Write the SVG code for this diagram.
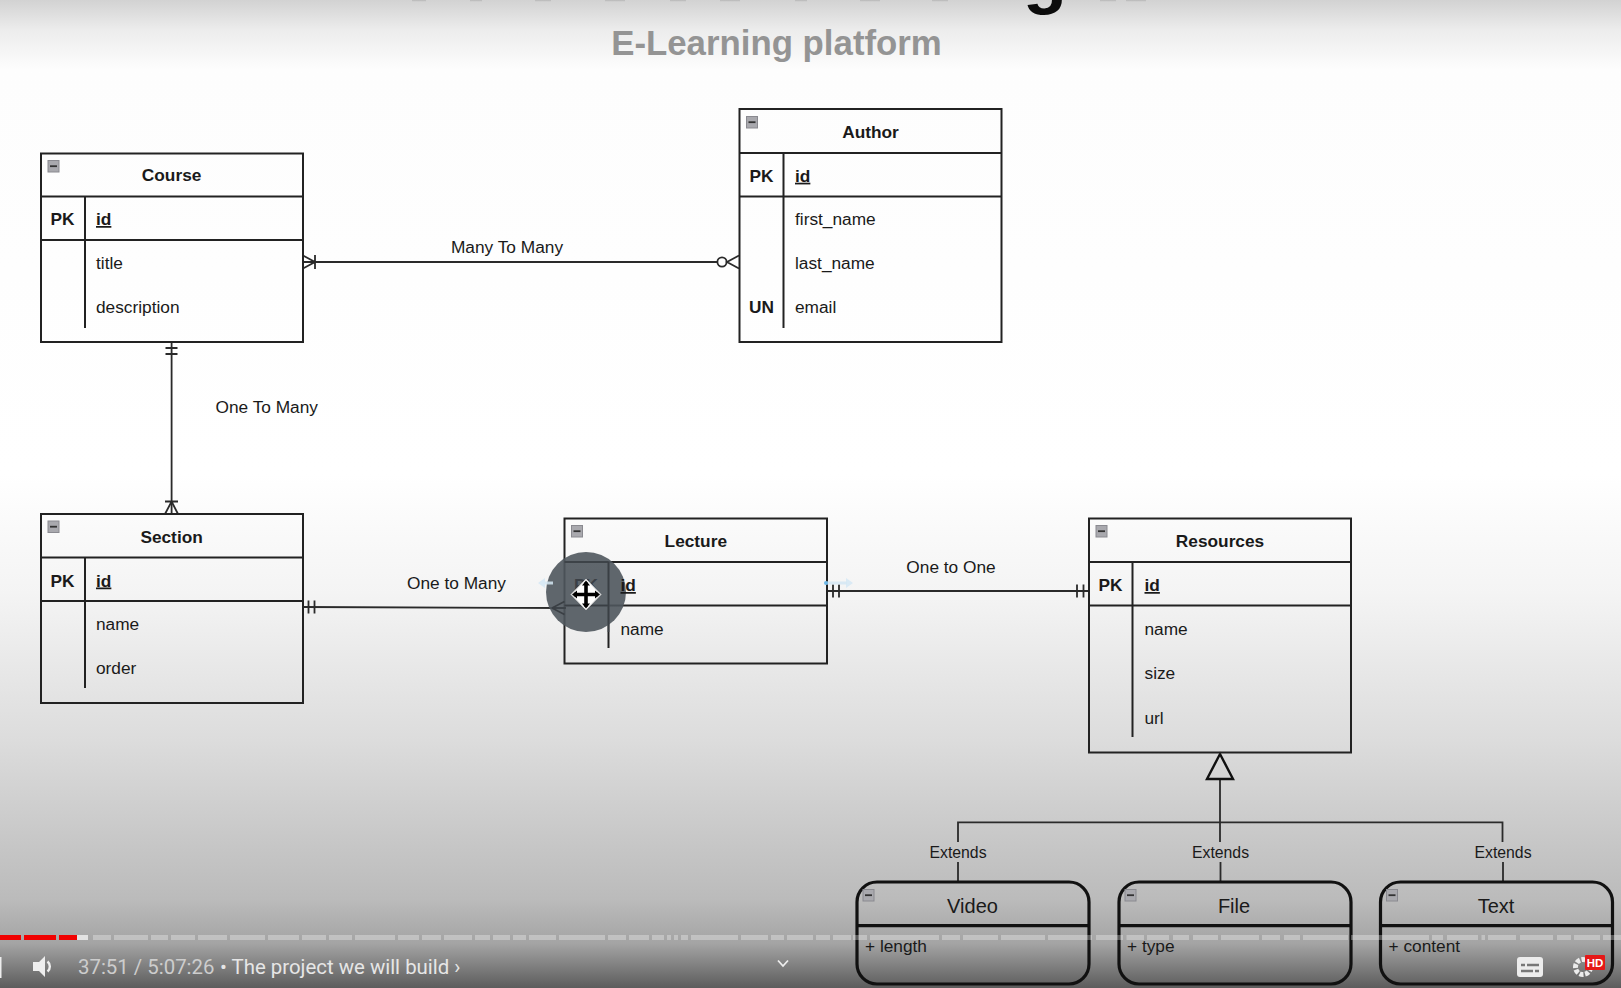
<svg xmlns="http://www.w3.org/2000/svg" width="1621" height="988" viewBox="0 0 1621 988">
<style>
text{font-family:"Liberation Sans",Arial,sans-serif;font-size:17.3px;fill:#1a1a1a}
.b{font-weight:bold}
.m{text-anchor:middle}
.u{text-decoration:underline}
.box{fill:none;stroke:#222;stroke-width:2}
.ln{fill:none;stroke:#222;stroke-width:2}
.thick{fill:none;stroke:#111;stroke-width:3.2}
.con{fill:none;stroke:#2a2a2a;stroke-width:1.8}
.ico{fill:#a9a9ae;stroke:#8a8a90;stroke-width:1}
.icb{stroke:#333;stroke-width:1.8}
.big{font-size:20px}
.ext{font-size:15.8px}
.yt{font-family:Roboto,"Liberation Sans",sans-serif;font-size:20.4px}
</style>
<defs>
<linearGradient id="bg" x1="0" y1="0" x2="0" y2="1">
<stop offset="0" stop-color="#d2d2d2"/>
<stop offset="0.03" stop-color="#ececec"/>
<stop offset="0.07" stop-color="#fdfdfd"/>
<stop offset="0.48" stop-color="#ffffff"/>
<stop offset="0.6" stop-color="#f4f4f4"/>
<stop offset="0.75" stop-color="#dcdcdc"/>
<stop offset="0.91" stop-color="#bbbbbb"/>
<stop offset="0.955" stop-color="#a4a4a4"/>
<stop offset="1" stop-color="#5c5c5c"/>
</linearGradient>
<g id="minus"><rect class="ico" x="0.5" y="0.5" width="11" height="11.5"/><path class="icb" d="M2.5 6.2H9.5"/></g>
</defs>
<rect width="1621" height="988" fill="url(#bg)"/>

<g id="title-remnants" fill="#777" opacity="0.22">
<rect x="412" y="0" width="14" height="1.2"/><rect x="470" y="0" width="12" height="1.2"/><rect x="535" y="0" width="16" height="1.2"/><rect x="605" y="0" width="20" height="1.2"/><rect x="670" y="0" width="16" height="1.2"/><rect x="720" y="0" width="20" height="1.2"/><rect x="795" y="0" width="12" height="1.2"/><rect x="860" y="0" width="20" height="1.2"/><rect x="932" y="0" width="16" height="1.2"/><rect x="1100" y="0" width="16" height="1.2"/><rect x="1126" y="0" width="20" height="1.2"/>
</g>
<text x="1023" y="0" style="font-size:72px;font-weight:bold;fill:#0c0c0c">g</text>
<text x="776.5" y="55" class="b m" style="font-size:34.8px;fill:#949494">E-Learning platform</text>

<g id="connectors">
<g id="c-course-author">
<path class="con" d="M303 262H717"/>
<path class="con" d="M303 255.5L315 262L303 268.5M315 255V269"/>
<circle class="con" cx="722" cy="262" r="4.6"/>
<path class="con" d="M739 255.5L727 262L739 268.5"/>
<text x="507" y="253" class="m">Many To Many</text>
</g>
<g id="c-course-section">
<path class="con" d="M171.6 342V514"/>
<path class="con" d="M165.5 348H177.5M165.5 354H177.5"/>
<path class="con" d="M165 501.5H178M165 514L171.6 501.5L178 514"/>
<text x="215.5" y="412.5">One To Many</text>
</g>
<g id="c-section-lecture">
<path class="con" d="M303 607L564.5 608"/>
<path class="con" d="M308.5 600.5V613.5M314.5 600.5V613.5"/>
<text x="456.5" y="589" class="m">One to Many</text>
</g>
<g id="c-lecture-resources">
<path class="con" d="M827 591H1089"/>
<path class="con" d="M833 584.5V597.5M839 584.5V597.5M1077 584.5V597.5M1083.5 584.5V597.5"/>
<text x="951" y="573" class="m">One to One</text>
</g>
<g id="c-extends">
<path class="con" d="M1220 779V842M958 842V822.3H1502.5V842M958 862V882M1220.5 862V882M1503 862V882"/>
<path d="M1220 754L1233 779H1207Z" fill="none" stroke="#111" stroke-width="2.4"/>
<text x="958" y="857.5" class="m ext">Extends</text>
<text x="1220.5" y="857.5" class="m ext">Extends</text>
<text x="1503" y="857.5" class="m ext">Extends</text>
</g>
</g>

<g id="course">
<rect class="box" x="41" y="153.5" width="262" height="188.5"/>
<path class="ln" d="M41 196.5H303M41 240H303M85 196.5V328"/>
<use href="#minus" x="47.5" y="160"/>
<text x="171.6" y="181.2" class="b m">Course</text>
<text x="62.5" y="225" class="b m">PK</text>
<text x="96" y="225" class="b u">id</text>
<text x="96" y="269">title</text>
<text x="96" y="312.5">description</text>
</g>
<g id="author">
<rect class="box" x="739.5" y="109" width="262" height="233"/>
<path class="ln" d="M739.5 153H1001.5M739.5 196.5H1001.5M783.5 153V328"/>
<use href="#minus" x="746" y="116"/>
<text x="870.5" y="137.7" class="b m">Author</text>
<text x="761.5" y="181.7" class="b m">PK</text>
<text x="795" y="181.7" class="b u">id</text>
<text x="795" y="225">first_name</text>
<text x="795" y="269">last_name</text>
<text x="761.5" y="312.5" class="b m">UN</text>
<text x="795" y="312.5">email</text>
</g>
<g id="section">
<rect class="box" x="41" y="514" width="262" height="189"/>
<path class="ln" d="M41 557.5H303M41 601H303M85 557.5V688"/>
<use href="#minus" x="47.5" y="520.5"/>
<text x="171.6" y="542.5" class="b m">Section</text>
<text x="62.5" y="586.5" class="b m">PK</text>
<text x="96" y="586.5" class="b u">id</text>
<text x="96" y="630">name</text>
<text x="96" y="673.5">order</text>
</g>
<g id="lecture">
<rect class="box" x="564.5" y="518.5" width="262.5" height="145"/>
<path class="ln" d="M564.5 562H827M564.5 605.5H827M608.5 562V648"/>
<circle cx="586" cy="592" r="40" fill="#4f565d" opacity="0.9"/>
<path d="M564.5 562H608.5M564.5 605.5H608.5M608.5 562V632" fill="none" stroke="#3a3f44" stroke-width="1.6"/>
<path d="M552 608H566M552 608L564.5 601.5M552 608L564.5 614.5" fill="none" stroke="#3a3f44" stroke-width="1.6"/>
<use href="#minus" x="571" y="525"/>
<text x="695.8" y="547" class="b m">Lecture</text>
<text x="586" y="591" class="b m" style="fill:#3b4046">PK</text>
<text x="620.5" y="591" class="b u">id</text>
<text x="620.5" y="634.5">name</text>
<path d="M538 583l7-5v10zM853 583l-7-5v10z" fill="#d5e8f4" opacity="0.85"/>
<path d="M827 583h20M545 583h8" stroke="#d5e8f4" stroke-width="3" opacity="0.85"/>
<circle cx="826" cy="583" r="2" fill="#6db8e8"/>
<g id="move-cursor">
<path d="M586 579L601 594.5L586 610L571 594.5Z" fill="#fff" stroke="#c8c8c8"/>
<path d="M586 582.5V606.5M574 594.5H598" stroke="#000" stroke-width="3.6"/>
<path d="M586 580.5l-4 5h8zM586 608.5l-4-5h8zM572 594.5l5-4v8zM600 594.5l-5-4v8z" fill="#000"/>
</g>
</g>
<g id="resources">
<rect class="box" x="1089" y="518.5" width="262" height="234"/>
<path class="ln" d="M1089 562H1351M1089 605.5H1351M1132.5 562V737"/>
<use href="#minus" x="1095.5" y="525"/>
<text x="1220" y="547" class="b m">Resources</text>
<text x="1110.5" y="591" class="b m">PK</text>
<text x="1144.5" y="591" class="b u">id</text>
<text x="1144.5" y="634.5">name</text>
<text x="1144.5" y="679">size</text>
<text x="1144.5" y="723.5">url</text>
</g>
<g id="video">
<rect class="thick" x="857" y="882" width="232" height="102" rx="20"/>
<path class="thick" d="M857 925.7H1089"/>
<use href="#minus" x="862.5" y="889"/>
<text x="972.5" y="913" class="m big">Video</text>
<text x="865" y="952">+ length</text>
</g>
<g id="file">
<rect class="thick" x="1119" y="882" width="232" height="102" rx="20"/>
<path class="thick" d="M1119 925.7H1351"/>
<use href="#minus" x="1124.5" y="889"/>
<text x="1234" y="913" class="m big">File</text>
<text x="1127" y="952">+ type</text>
</g>
<g id="text">
<rect class="thick" x="1380.5" y="882" width="232" height="102" rx="20"/>
<path class="thick" d="M1380.5 925.7H1612.5"/>
<use href="#minus" x="1386" y="889"/>
<text x="1496" y="913" class="m big">Text</text>
<text x="1388.5" y="952">+ content</text>
</g>

<g id="player">
<path d="M93 937.5H111M114 937.5H148M151 937.5H168M171 937.5H195M198 937.5H227M230 937.5H265M268 937.5H299M302 937.5H326M329 937.5H352M355 937.5H395M398 937.5H419M422 937.5H441M444 937.5H472M475 937.5H490M493 937.5H510M513 937.5H526M529 937.5H556M559 937.5H605M608 937.5H626M629 937.5H649M652 937.5H664M667 937.5H671M674 937.5H678M681 937.5H688M691 937.5H738M741 937.5H768M771 937.5H784M787 937.5H813M816 937.5H830M833 937.5H851M853 937.5H867M870 937.5H939M942 937.5H960M963 937.5H998M1001 937.5H1045M1048 937.5H1092M1096 937.5H1123M1126.5 937.5H1144M1147 937.5H1169M1173 937.5H1189M1193 937.5H1218M1221 937.5H1259M1262 937.5H1280M1284 937.5H1300M1303 937.5H1348M1351 937.5H1429M1432 937.5H1443M1447 937.5H1478M1481.5 937.5H1485M1488 937.5H1516M1520 937.5H1553M1557 937.5H1571M1574 937.5H1600M1603 937.5H1621" stroke="#fff" stroke-opacity="0.3" stroke-width="5" fill="none"/>
<path d="M77 937.5H88" stroke="#e2e2e2" stroke-width="5"/>
<path d="M0 937.5H21M24 937.5H56M59 937.5H77" stroke="#f00000" stroke-width="5"/>
<rect x="0" y="957" width="1.5" height="21" fill="#eee"/>
<path d="M33 962H39L45 956V977L39 971H33Z" fill="#eee"/>
<path d="M47.5 961.5a6.5 6.5 0 0 1 0 10" stroke="#eee" stroke-width="2.4" fill="none"/>
<text x="78" y="974" class="yt" style="fill:#cdcdcd">37:51 / 5:07:26</text>
<text x="220" y="974" class="yt" style="fill:#e6e6e6">• The project we will build ›</text>
<path d="M778 960.5L783 966L788 960.5" stroke="#eee" stroke-width="1.8" fill="none"/>
<rect x="1517" y="957" width="26" height="20" rx="3" fill="#ececec"/>
<path d="M1521 965h4M1527 965h12M1521 971h12M1535 971h4" stroke="#777" stroke-width="2.4"/>
<circle cx="1583" cy="967" r="7.5" fill="none" stroke="#ececec" stroke-width="5" stroke-dasharray="4 1.6"/>
<rect x="1585" y="955" width="20" height="15" rx="1" fill="#e51717"/>
<text x="1595" y="967" class="b m" style="font-size:11.5px;fill:#fff">HD</text>
</g>
</svg>
